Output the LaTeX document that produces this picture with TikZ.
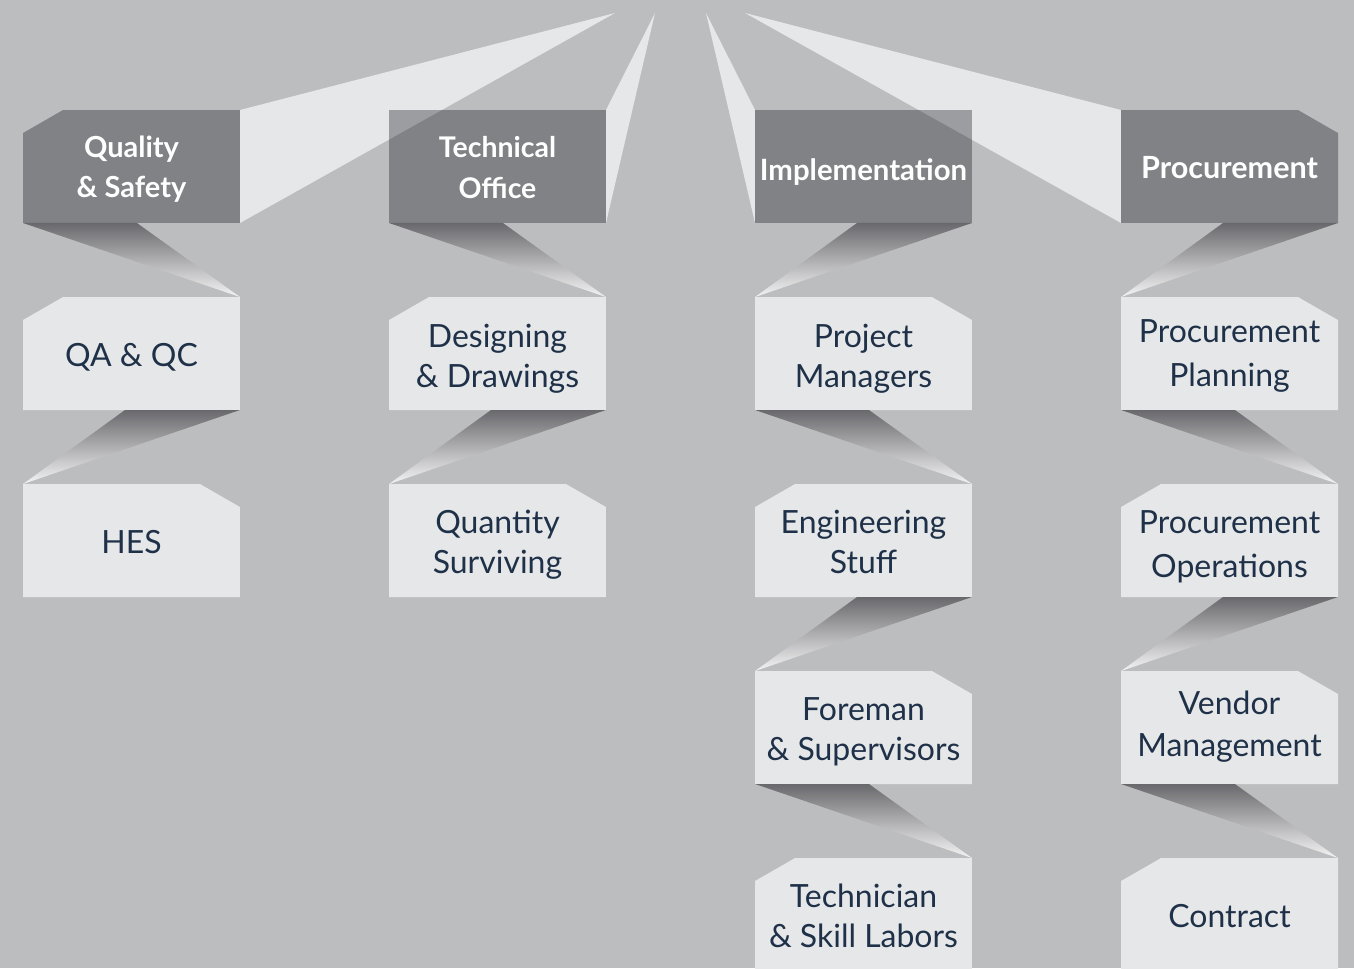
\documentclass[tikz,border=0pt]{standalone}
\usepackage{fontspec}
\setmainfont{Lato}
\usetikzlibrary{calc}
\pgfdeclarelayer{back}
\pgfdeclarelayer{mid}
\pgfsetlayers{back,mid,main}
\definecolor{bgc}{HTML}{BCBDBF}
\definecolor{lightc}{HTML}{E6E7E8}
\definecolor{darkc}{HTML}{808285}
\definecolor{overc}{HTML}{9C9DA0}
\definecolor{navy}{HTML}{1F3148}
\definecolor{ribtop}{HTML}{69686C}
\definecolor{ribbot}{HTML}{F4F4F5}
\tikzset{
  box/.style={minimum width=4.34cm, minimum height=2.26cm, inner sep=0pt, outer sep=0pt},
  htext/.style 2 args={inner sep=0pt, align=center, text=white, font=\bfseries\fontsize{#1}{#2}\selectfont},
  stext/.style={inner sep=0pt, align=center, text=navy, font=\fontsize{18.2}{#1}\selectfont},
  stext/.default=22.68pt,
  ribbon/.style={top color=ribtop, bottom color=ribbot}
}
% box shapes with a cut corner
\newcommand\boxTL[2]{\fill[#2] ($(#1.north west)+(0,23)$) -- ($(#1.north west)+(40,0)$) -- (#1.north east) -- (#1.south east) -- (#1.south west) -- cycle;}
\newcommand\boxTR[2]{\fill[#2] (#1.north west) -- ($(#1.north east)+(-40,0)$) -- ($(#1.north east)+(0,23)$) -- (#1.south east) -- (#1.south west) -- cycle;}
\newcommand\boxSQ[2]{\fill[#2] (#1.north west) rectangle (#1.south east);}
% folded ribbons between boxes
\newcommand\ribLR[2]{\shade[ribbon] (#1.south west) -- ($(#1.south west)!0.525!(#1.south east)$) -- (#2.north east) -- cycle;}
\newcommand\ribRL[2]{\shade[ribbon] ($(#1.south west)!0.47!(#1.south east)$) -- (#1.south east) -- (#2.north west) -- cycle;}
% text label: name, style, downward offset (px) of the baselines' midpoint, text
\newcommand\lbl[4]{\node[#2, yshift=-(#3+1.5)*0.5669pt] (#1t) at (#1.center) {\rule{0pt}{15pt}#4\rule[-15pt]{0pt}{15pt}};}
\begin{document}
\begin{tikzpicture}[x=0.02cm, y=-0.02cm]
\useasboundingbox (0,0) rectangle (1354,968);
% apex points of the top wedges
\coordinate (p1) at (615,13);
\coordinate (p2) at (655,13);
\coordinate (p3) at (706,13);
\coordinate (p4) at (745,13);
% boxes
\node[box] (h1) at (131.5,166.5) {};
\node[box] (h2) at (497.5,166.5) {};
\node[box] (h3) at (863.5,166.5) {};
\node[box] (h4) at (1229.5,166.5) {};
\node[box] (a2) at (131.5,353.5) {};
\node[box] (b2) at (497.5,353.5) {};
\node[box] (c2) at (863.5,353.5) {};
\node[box] (d2) at (1229.5,353.5) {};
\node[box] (a3) at (131.5,540.5) {};
\node[box] (b3) at (497.5,540.5) {};
\node[box] (c3) at (863.5,540.5) {};
\node[box] (d3) at (1229.5,540.5) {};
\node[box] (c4) at (863.5,727.5) {};
\node[box] (d4) at (1229.5,727.5) {};
\node[box] (c5) at (863.5,914.5) {};
\node[box] (d5) at (1229.5,914.5) {};
% texts
\lbl{h1}{htext={16.5}{23.24pt}}{9.5}{Quality\\\& Safety}
\lbl{h2}{htext={16.2}{23.24pt}}{10}{Technical\\Office}
\lbl{h3}{htext={16.7}{23.24pt}}{12.5}{Implementation}
\lbl{h4}{htext={17.4}{23.24pt}}{10.5}{Procurement}
\lbl{a2}{stext}{11.5}{QA \& QC}
\lbl{b2}{stext}{12.5}{Designing\\\& Drawings}
\lbl{c2}{stext}{12.5}{Project\\Managers}
\lbl{d2}{stext=24.94pt}{9.5}{Procurement\\Planning}
\lbl{a3}{stext}{11.5}{HES}
\lbl{b3}{stext}{11.5}{Quantity\\Surviving}
\lbl{c3}{stext}{11.5}{Engineering\\Stuff}
\lbl{d3}{stext=24.94pt}{13.5}{Procurement\\Operations}
\lbl{c4}{stext}{11.5}{Foreman\\\& Supervisors}
\lbl{d4}{stext=24.4pt}{6.5}{Vendor\\Management}
\lbl{c5}{stext}{11.5}{Technician\\\& Skill Labors}
\lbl{d5}{stext}{12}{Contract}

\begin{pgfonlayer}{back}
  \fill[bgc] (0,0) rectangle (1354,968);
  \fill[lightc] (h1.north east) -- (p1) -- (h1.south east) -- cycle;
  \fill[lightc] (h2.north east) -- (p2) -- (h2.south east) -- cycle;
  \fill[lightc] (h3.north west) -- (p3) -- (h3.south west) -- cycle;
  \fill[lightc] (h4.north west) -- (p4) -- (h4.south west) -- cycle;
\end{pgfonlayer}

\begin{pgfonlayer}{mid}
  \boxTL{h1}{darkc}
  \boxSQ{h2}{darkc}
  \boxSQ{h3}{darkc}
  \boxTR{h4}{darkc}
  \begin{scope}
    \clip (h2.north west) rectangle (h2.south east);
    \fill[overc] (h1.north east) -- (p1) -- (h1.south east) -- cycle;
  \end{scope}
  \begin{scope}
    \clip (h3.north west) rectangle (h3.south east);
    \fill[overc] (h4.north west) -- (p4) -- (h4.south west) -- cycle;
  \end{scope}
  \boxTL{a2}{lightc} \boxTR{a3}{lightc}
  \boxTL{b2}{lightc} \boxTR{b3}{lightc}
  \boxTR{c2}{lightc} \boxTL{c3}{lightc} \boxTR{c4}{lightc} \boxTL{c5}{lightc}
  \boxTR{d2}{lightc} \boxTL{d3}{lightc} \boxTR{d4}{lightc} \boxTL{d5}{lightc}
  \ribLR{h1}{a2} \ribRL{a2}{a3}
  \ribLR{h2}{b2} \ribRL{b2}{b3}
  \ribRL{h3}{c2} \ribLR{c2}{c3} \ribRL{c3}{c4} \ribLR{c4}{c5}
  \ribRL{h4}{d2} \ribLR{d2}{d3} \ribRL{d3}{d4} \ribLR{d4}{d5}
\end{pgfonlayer}
\end{tikzpicture}
\end{document}
